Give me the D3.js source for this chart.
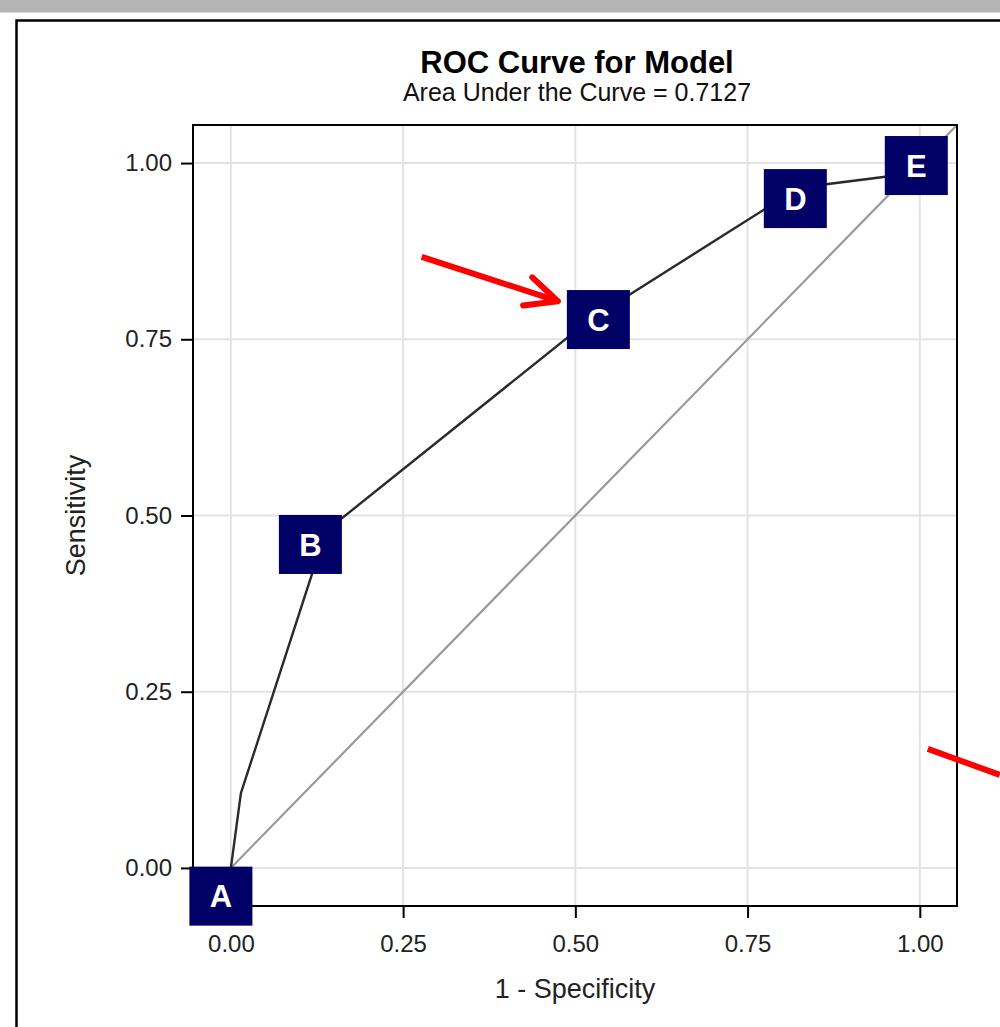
<!DOCTYPE html>
<html>
<head>
<meta charset="utf-8">
<script src="https://cdn.jsdelivr.net/npm/d3@7"></script>
<style>
  body { margin: 0; background: #fff; }
  svg { display: block; font-family: "Liberation Sans", Arial, sans-serif; }
</style>
</head>
<body>
<script>
// ROC curve points (1 - specificity, sensitivity)
const fpr = [0, 0.0145, 0.138, 0.52, 0.824, 0.97, 1];
const tpr = [0, 0.106, 0.478, 0.777, 0.965, 0.983, 1];

const ticks = [0, 0.25, 0.5, 0.75, 1];

// letter boxes (centre, in data units)
const labelNames = ["A", "B", "C", "D", "E"];
const labelX = [-0.0145, 0.1154, 0.5334, 0.8193, 0.9949];
const labelY = [-0.040, 0.4589, 0.778, 0.9496, 0.9965];

// red arrows, start/end in data units
const arrowX0 = [0.277, 1.0116];
const arrowY0 = [0.867, 0.169];
const arrowX1 = [0.4746, 1.116];
const arrowY1 = [0.804, 0.132];
const arrowHead = [true, false];

const title = "ROC Curve for Model";
const subtitle = "Area Under the Curve = 0.7127";
const xTitle = "1 - Specificity";
const yTitle = "Sensitivity";

const W = 1000, H = 1027;
const plotL = 193, plotR = 957, plotT = 125, plotB = 906;

const x = d3.scaleLinear().domain([-0.055, 1.054]).range([plotL, plotR]);
const y = d3.scaleLinear().domain([-0.054, 1.054]).range([plotB, plotT]);

const svg = d3.select("body").append("svg")
    .attr("width", W)
    .attr("height", H);

// grey strip + panel border
svg.append("rect")
    .attr("x", 0).attr("y", 0)
    .attr("width", W).attr("height", 12.5)
    .attr("fill", "#b4b4b4");
svg.append("rect")
    .attr("x", 16.5).attr("y", 20.5)
    .attr("width", W + 20).attr("height", H + 20)
    .attr("fill", "#fff")
    .attr("stroke", "#000")
    .attr("stroke-width", 2.5);

// titles
svg.append("text")
    .attr("x", 577).attr("y", 73)
    .attr("text-anchor", "middle")
    .style("font-size", "31px")
    .style("font-weight", "bold")
    .attr("fill", "#000")
    .text(title);
svg.append("text")
    .attr("x", 577).attr("y", 101)
    .attr("text-anchor", "middle")
    .style("font-size", "25px")
    .attr("fill", "#111")
    .text(subtitle);

// grid
const grid = svg.append("g")
    .attr("stroke", "#e3e3e3")
    .attr("stroke-width", 2);
grid.selectAll("line.v")
    .data(ticks)
    .join("line")
    .attr("class", "v")
    .attr("x1", d => x(d)).attr("x2", d => x(d))
    .attr("y1", plotT).attr("y2", plotB);
grid.selectAll("line.h")
    .data(ticks)
    .join("line")
    .attr("class", "h")
    .attr("x1", plotL).attr("x2", plotR)
    .attr("y1", d => y(d)).attr("y2", d => y(d));

// diagonal reference
svg.append("line")
    .attr("x1", x(0)).attr("y1", y(0))
    .attr("x2", x(x.domain()[1])).attr("y2", y(y.domain()[1]))
    .attr("stroke", "#999")
    .attr("stroke-width", 2.2);

// ROC curve
const pts = fpr.map((v, i) => [v, tpr[i]]);
svg.append("path")
    .datum(pts)
    .attr("fill", "none")
    .attr("stroke", "#2a2a2a")
    .attr("stroke-width", 2.4)
    .attr("d", d3.line().x(d => x(d[0])).y(d => y(d[1])));

// axes
const xAxis = svg.append("g")
    .attr("transform", `translate(0,${plotB})`)
    .call(d3.axisBottom(x).tickValues(ticks).tickFormat(d3.format(".2f"))
        .tickSize(12).tickSizeOuter(0).tickPadding(17));
const yAxis = svg.append("g")
    .attr("transform", `translate(${plotL},0)`)
    .call(d3.axisLeft(y).tickValues(ticks).tickFormat(d3.format(".2f"))
        .tickSize(12).tickSizeOuter(0).tickPadding(9));
[xAxis, yAxis].forEach(a => {
    a.select(".domain").remove();
    a.selectAll(".tick line").attr("stroke", "#000").attr("stroke-width", 2);
    a.selectAll(".tick text")
        .attr("fill", "#222")
        .style("font-size", "24px")
        .style("font-family", "'Liberation Sans', Arial, sans-serif");
});

// frame
svg.append("rect")
    .attr("x", plotL).attr("y", plotT)
    .attr("width", plotR - plotL).attr("height", plotB - plotT)
    .attr("fill", "none")
    .attr("stroke", "#000")
    .attr("stroke-width", 2);

// axis titles
svg.append("text")
    .attr("x", (plotL + plotR) / 2).attr("y", 998)
    .attr("text-anchor", "middle")
    .style("font-size", "27px")
    .attr("fill", "#222")
    .text(xTitle);
svg.append("text")
    .attr("transform", `translate(85,${(plotT + plotB) / 2}) rotate(-90)`)
    .attr("text-anchor", "middle")
    .style("font-size", "27px")
    .attr("fill", "#222")
    .text(yTitle);

// letter boxes
const boxW = 63, boxH = 59;
const lab = svg.append("g").selectAll("g")
    .data(labelNames)
    .join("g")
    .attr("transform", (d, i) => `translate(${x(labelX[i])},${y(labelY[i])})`);
lab.append("rect")
    .attr("x", -boxW / 2).attr("y", -boxH / 2)
    .attr("width", boxW).attr("height", boxH)
    .attr("fill", "#000066");
lab.append("text")
    .attr("text-anchor", "middle")
    .attr("dy", "0.36em")
    .attr("fill", "#fff")
    .style("font-size", "31px")
    .style("font-weight", "bold")
    .text(d => d);

// red arrows
const arrows = svg.append("g")
    .attr("stroke", "#ff0000")
    .attr("stroke-width", 6)
    .attr("fill", "none")
    .attr("stroke-linejoin", "round");
arrowX0.forEach((_, i) => {
    const x0 = x(arrowX0[i]), y0 = y(arrowY0[i]);
    const x1 = x(arrowX1[i]), y1 = y(arrowY1[i]);
    arrows.append("line")
        .attr("x1", x0).attr("y1", y0)
        .attr("x2", x1).attr("y2", y1);
    if (arrowHead[i]) {
        const a = Math.atan2(y1 - y0, x1 - x0) + Math.PI;
        const len = 35, spread = 25 * Math.PI / 180;
        const p = d3.path();
        p.moveTo(x1 + len * Math.cos(a + spread), y1 + len * Math.sin(a + spread));
        p.lineTo(x1, y1);
        p.lineTo(x1 + len * Math.cos(a - spread), y1 + len * Math.sin(a - spread));
        arrows.append("path")
            .attr("stroke-linecap", "round")
            .attr("d", p.toString());
    }
});
</script>
</body>
</html>
